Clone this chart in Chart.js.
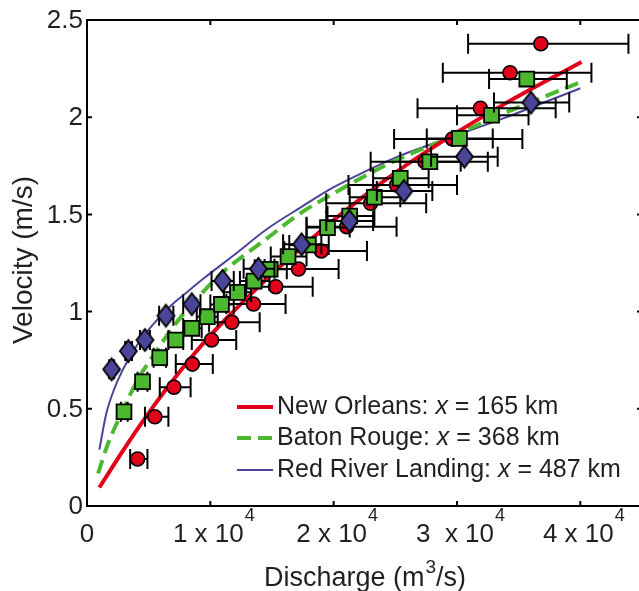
<!DOCTYPE html>
<html>
<head>
<meta charset="utf-8">
<script src="https://cdn.jsdelivr.net/npm/chart.js@4.4.1/dist/chart.umd.min.js"></script>
<style>
  html, body { margin: 0; padding: 0; background: #fff; overflow: hidden; }
  #wrap { width: 639px; height: 591px; overflow: hidden; }
  canvas { display: block; }
</style>
</head>
<body>
<div id="wrap"><canvas id="c" width="642" height="591"></canvas></div>
<script>
// New Orleans, x = 165 km (red circles): discharge m3/s, velocity m/s, error bar ends
const noQ   = [4100, 5500, 7050, 8540, 10100, 11750, 13500, 15300, 17150, 19000, 21060, 23000, 25100, 27400, 29630, 31900, 34300, 36800];
const noV   = [0.242, 0.459, 0.611, 0.730, 0.854, 0.945, 1.039, 1.128, 1.219, 1.312, 1.437, 1.557, 1.651, 1.771, 1.888, 2.046, 2.229, 2.378];
const noLo  = [3500, 4700, 5900, 7200, 8500, 9900, 11300, 12900, 14400, 16000, 17800, 19400, 21200, 23000, 24900, 26800, 28850, 30900];
const noHi  = [4900, 6600, 8400, 10200, 12100, 14000, 16100, 18300, 20400, 22700, 25100, 27500, 30000, 32500, 35300, 38000, 40900, 43900];

// Baton Rouge, x = 368 km (green squares)
const brQ   = [3000, 4500, 5900, 7200, 8500, 9750, 10900, 12200, 13550, 14850, 16300, 17950, 19500, 21300, 23300, 25400, 27800, 30200, 32800, 35660];
const brV   = [0.485, 0.639, 0.763, 0.854, 0.914, 0.974, 1.037, 1.099, 1.157, 1.218, 1.283, 1.343, 1.432, 1.492, 1.588, 1.686, 1.771, 1.891, 2.010, 2.196];
const brLo  = [2750, 4100, 5400, 6600, 7800, 8900, 10000, 11100, 12400, 13600, 14900, 16400, 17800, 19500, 21300, 23200, 25400, 27550, 30000, 32600];
const brHi  = [3300, 4900, 6400, 7800, 9300, 10600, 11900, 13300, 14800, 16200, 17800, 19600, 21300, 23300, 25400, 27700, 30300, 32900, 35800, 38900];

// Red River Landing, x = 487 km (blue diamonds)
const rrQ   = [2000, 3350, 4700, 6400, 8500, 11000, 13900, 17400, 21270, 25700, 30600, 36000];
const rrV   = [0.703, 0.797, 0.854, 0.979, 1.038, 1.158, 1.220, 1.346, 1.466, 1.620, 1.797, 2.075];
const rrLo  = [1800, 3100, 4300, 5850, 7800, 10100, 12700, 15900, 19400, 23500, 27900, 33000];
const rrHi  = [2200, 3650, 5100, 7000, 9200, 11900, 15200, 19000, 23200, 28000, 33300, 39100];

// rating curves
const noFitQ = [1000, 2800, 4100, 5500, 6800, 8200, 9600, 11200, 13500, 15300, 18400, 20500, 22700, 25100, 29200, 33800, 37600, 40100];
const noFitV = [0.095, 0.273, 0.397, 0.523, 0.633, 0.745, 0.849, 0.958, 1.103, 1.211, 1.385, 1.496, 1.606, 1.719, 1.891, 2.066, 2.199, 2.284];
const brFitQ = [900, 1700, 2800, 4100, 5500, 6800, 8200, 9550, 10900, 11900, 14600, 17300, 20000, 22700, 25100, 29200, 33800, 40000];
const brFitV = [0.168, 0.32, 0.477, 0.648, 0.785, 0.905, 1.017, 1.111, 1.197, 1.249, 1.377, 1.506, 1.608, 1.703, 1.78, 1.89, 2.02, 2.18];
const rrFitQ = [1000, 1570, 2200, 2900, 3600, 4300, 5500, 6800, 8200, 9550, 11900, 14600, 17300, 20000, 22700, 25100, 29200, 33800, 40000];
const rrFitV = [0.29, 0.477, 0.60, 0.70, 0.78, 0.85, 0.945, 1.03, 1.105, 1.175, 1.29, 1.425, 1.535, 1.64, 1.725, 1.795, 1.89, 1.995, 2.149];

// ticks and labels
const xTickVals  = [0, 10000, 20000, 30000, 40000];
const xTickText  = ['0', '1 x 10', '2 x 10', '3  x 10', '4 x 10'];
const yTickVals  = [0, 0.5, 1, 1.5, 2, 2.5];
const yTickText  = ['0', '0.5', '1', '1.5', '2', '2.5'];
const legendName = ['New Orleans: ', 'Baton Rouge: ', 'Red River Landing: '];
const legendKm   = [' = 165 km', ' = 368 km', ' = 487 km'];

const RED = '#e3001b', GREEN = '#4cb830', BLUE = '#4a4598';
const TXT = '#231f20';
const FONT = '"Liberation Sans", Arial, sans-serif';

const pts = (q, v) => q.map((x, i) => ({ x: x, y: v[i] }));

// taller-than-wide diamond marker
function diamond(w, h, fill) {
  const c = document.createElement('canvas');
  c.width = w + 4; c.height = h + 4;
  const g = c.getContext('2d');
  g.fillStyle = fill; g.strokeStyle = '#000'; g.lineWidth = 1.8;
  g.beginPath();
  g.moveTo(c.width / 2, 2);
  g.lineTo(w + 2, c.height / 2);
  g.lineTo(c.width / 2, h + 2);
  g.lineTo(2, c.height / 2);
  g.closePath(); g.fill(); g.stroke();
  return c;
}

// horizontal error bars, drawn right under their own markers
const errorBars = {
  id: 'errorBars',
  beforeDatasetDraw(chart, args) {
    const ds = chart.data.datasets[args.index];
    if (!ds.errLo) return;
    const { ctx, scales: { x, y } } = chart;
    ctx.save();
    ctx.strokeStyle = '#000';
    ctx.lineWidth = 2;
    ds.data.forEach((p, i) => {
      const x0 = x.getPixelForValue(ds.errLo[i]);
      const x1 = x.getPixelForValue(ds.errHi[i]);
      const py = y.getPixelForValue(p.y);
      ctx.beginPath();
      ctx.moveTo(x0, py); ctx.lineTo(x1, py);
      ctx.moveTo(x0, py - 10); ctx.lineTo(x0, py + 10);
      ctx.moveTo(x1, py - 10); ctx.lineTo(x1, py + 10);
      ctx.stroke();
    });
    ctx.restore();
  }
};

// text with a raised exponent, centred on cx
function supText(ctx, main, sup, tail, cx, base, size, supSize, supRise) {
  ctx.font = size + 'px ' + FONT;
  const w1 = ctx.measureText(main).width;
  const w3 = ctx.measureText(tail).width;
  ctx.font = supSize + 'px ' + FONT;
  const w2 = ctx.measureText(sup).width;
  const x0 = cx - (w1 + w2 + w3) / 2;
  ctx.textAlign = 'left';
  ctx.textBaseline = 'alphabetic';
  ctx.font = size + 'px ' + FONT;
  ctx.fillText(main, x0, base);
  if (tail) ctx.fillText(tail, x0 + w1 + w2 + 1, base);
  ctx.font = supSize + 'px ' + FONT;
  ctx.fillText(sup, x0 + w1 + 1, base - supRise);
}

// MATLAB style box, inward ticks, labels, titles, legend
const frame = {
  id: 'frame',
  afterDraw(chart) {
    const { ctx, chartArea: a, scales: { x, y } } = chart;
    ctx.save();
    ctx.strokeStyle = '#000';
    ctx.lineWidth = 2;
    ctx.strokeRect(a.left, a.top, a.right - a.left, a.bottom - a.top);
    ctx.beginPath();
    xTickVals.forEach(v => {
      const px = x.getPixelForValue(v);
      ctx.moveTo(px, a.bottom); ctx.lineTo(px, a.bottom - 5);
      ctx.moveTo(px, a.top); ctx.lineTo(px, a.top + 5);
    });
    yTickVals.forEach(v => {
      const py = y.getPixelForValue(v);
      ctx.moveTo(a.left, py); ctx.lineTo(a.left + 5, py);
      ctx.moveTo(a.right, py); ctx.lineTo(a.right - 5, py);
    });
    ctx.stroke();

    ctx.fillStyle = TXT;
    // y tick labels
    ctx.font = '26px ' + FONT;
    ctx.textAlign = 'right';
    ctx.textBaseline = 'middle';
    yTickVals.forEach((v, i) => ctx.fillText(yTickText[i], a.left - 4, y.getPixelForValue(v) + 1));
    // x tick labels
    xTickVals.forEach((v, i) => {
      const px = x.getPixelForValue(v);
      if (i === 0) {
        ctx.font = '26px ' + FONT;
        ctx.textAlign = 'center';
        ctx.textBaseline = 'alphabetic';
        ctx.fillText(xTickText[i], px, 542);
      } else {
        supText(ctx, xTickText[i], '4', '', px + 3, 542, 26, 18, 21);
      }
    });
    // axis titles
    supText(ctx, 'Discharge (m', '3', '/s)', (a.left + a.right) / 2, 586, 27, 19, 13);

    ctx.save();
    ctx.translate(24, (a.top + a.bottom) / 2 - 3);
    ctx.rotate(-Math.PI / 2);
    ctx.textAlign = 'center';
    ctx.textBaseline = 'middle';
    ctx.font = '28px ' + FONT;
    ctx.fillText('Velocity (m/s)', 0, 0);
    ctx.restore();

    // legend
    const rows = [407, 438, 470];
    const sets = [3, 4, 5];
    rows.forEach((ry, i) => {
      const ds = chart.data.datasets[sets[i]];
      ctx.strokeStyle = ds.borderColor;
      ctx.lineWidth = ds.borderWidth;
      ctx.setLineDash(ds.borderDash || []);
      ctx.beginPath();
      ctx.moveTo(237, ry); ctx.lineTo(273, ry);
      ctx.stroke();
      ctx.setLineDash([]);
      ctx.fillStyle = TXT;
      ctx.textAlign = 'left';
      ctx.textBaseline = 'middle';
      let lx = 277;
      ctx.font = '25px ' + FONT;
      ctx.fillText(legendName[i], lx, ry);
      lx += ctx.measureText(legendName[i]).width;
      ctx.font = 'italic 25px ' + FONT;
      ctx.fillText('x', lx, ry);
      lx += ctx.measureText('x').width;
      ctx.font = '25px ' + FONT;
      ctx.fillText(legendKm[i], lx, ry);
    });
    ctx.restore();
  }
};

new Chart(document.getElementById('c'), {
  type: 'scatter',
  data: {
    datasets: [
      { label: 'Red River Landing data', data: pts(rrQ, rrV), errLo: rrLo, errHi: rrHi,
        pointStyle: diamond(17, 22, BLUE), pointRadius: 10 },
      { label: 'Baton Rouge data', data: pts(brQ, brV), errLo: brLo, errHi: brHi,
        pointStyle: 'rect', pointRadius: 10.5, backgroundColor: GREEN, borderColor: '#000', borderWidth: 1.8 },
      { label: 'New Orleans data', data: pts(noQ, noV), errLo: noLo, errHi: noHi,
        pointStyle: 'circle', pointRadius: 7, backgroundColor: RED, borderColor: '#000', borderWidth: 1.6 },
      { label: 'New Orleans', data: pts(noFitQ, noFitV), showLine: true, pointRadius: 0,
        borderColor: RED, borderWidth: 4, cubicInterpolationMode: 'monotone' },
      { label: 'Baton Rouge', data: pts(brFitQ, brFitV), showLine: true, pointRadius: 0,
        borderColor: GREEN, borderWidth: 4, borderDash: [14, 7], cubicInterpolationMode: 'monotone' },
      { label: 'Red River Landing', data: pts(rrFitQ, rrFitV), showLine: true, pointRadius: 0,
        borderColor: BLUE, borderWidth: 2, cubicInterpolationMode: 'monotone' }
    ]
  },
  options: {
    responsive: false,
    animation: false,
    devicePixelRatio: 1,
    layout: { autoPadding: false, padding: { top: 20, right: 0, bottom: 0, left: 0 } },
    plugins: { legend: { display: false }, tooltip: { enabled: false } },
    scales: {
      x: { type: 'linear', min: 0, max: 45000,
           afterFit(s) { s.height = 85; },
           ticks: { display: false, stepSize: 10000 },
           grid: { display: false }, border: { display: false } },
      y: { type: 'linear', min: 0, max: 2.5,
           afterFit(s) { s.width = 87; },
           ticks: { display: false, stepSize: 0.5 },
           grid: { display: false }, border: { display: false } }
    }
  },
  plugins: [errorBars, frame]
});
</script>
</body>
</html>
